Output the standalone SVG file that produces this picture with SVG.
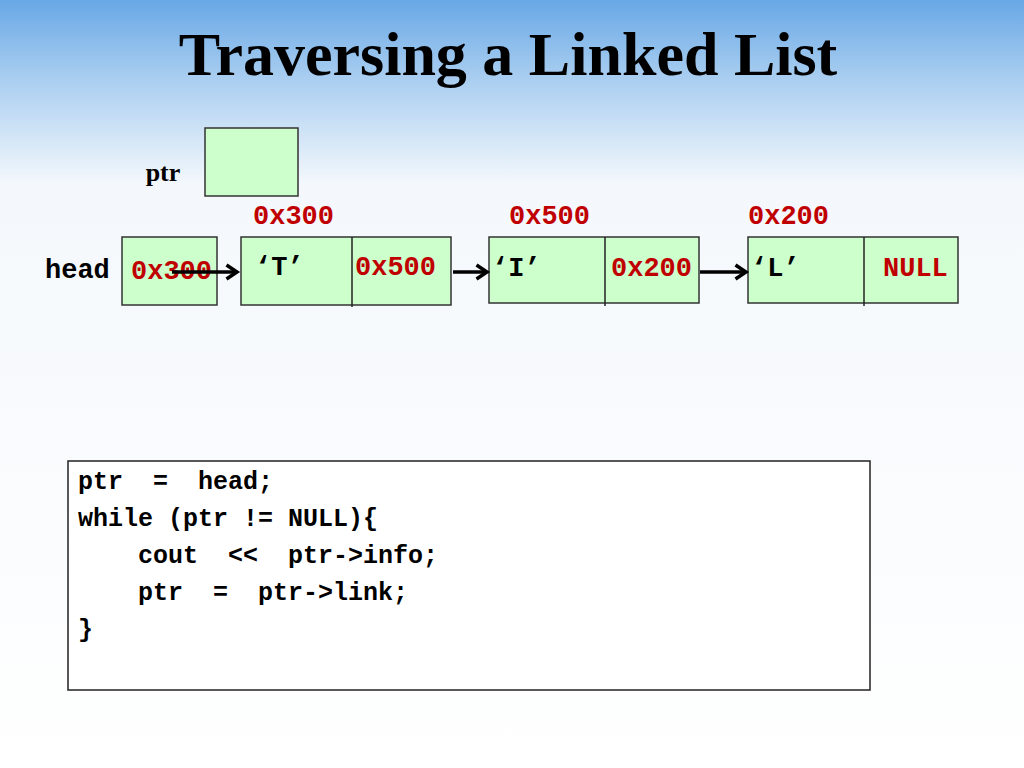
<svg xmlns="http://www.w3.org/2000/svg" width="1024" height="768" viewBox="0 0 1024 768">
<defs>
<linearGradient id="bg" x1="0" y1="0" x2="0" y2="1">
<stop offset="0" stop-color="#68a8e6"/>
<stop offset="0.1" stop-color="#a8cdf0"/>
<stop offset="0.24" stop-color="#f4f8fc"/>
<stop offset="1" stop-color="#ffffff"/>
</linearGradient>
<marker id="ah" viewBox="0 0 10 10" refX="8" refY="5" markerWidth="5" markerHeight="5" orient="auto" markerUnits="strokeWidth">
<path d="M2,1 L8,5 L2,9" fill="none" stroke="#000" stroke-width="2"/>
</marker>
<style>
.box{fill:#ccffcc;stroke:#333;stroke-width:1.5}
.div{stroke:#222;stroke-width:1.5}
.mono{font-family:"Liberation Mono",monospace;font-weight:bold;font-size:27px}
.red{fill:#c00000}
.blk{fill:#000}
.serif{font-family:"Liberation Serif",serif;font-weight:bold}
.code{font-family:"Liberation Mono",monospace;font-weight:bold;font-size:25px;fill:#000}
.conn{stroke:#000;stroke-width:3.5;fill:none}
</style>
</defs>
<rect width="1024" height="768" fill="url(#bg)"/>
<text x="508" y="75" text-anchor="middle" class="serif" font-size="62">Traversing a Linked List</text>
<g id="ptr">
<text x="163" y="181" text-anchor="middle" class="serif" font-size="26">ptr</text>
<rect class="box" x="205" y="128" width="93" height="68"/>
</g>
<g id="head">
<text x="45" y="278" class="mono blk">head</text>
<rect class="box" x="122" y="237" width="95" height="68"/>
<text x="131" y="279" class="mono red">0x300</text>
</g>
<g id="node1">
<text x="253" y="224" class="mono red">0x300</text>
<rect class="box" x="241" y="237" width="210" height="68"/>
<line class="div" x1="352" y1="237" x2="352" y2="307"/>
<text x="255" y="275" class="mono blk">‘T’</text>
<text x="355" y="275" class="mono red">0x500</text>
</g>
<g id="node2">
<text x="509" y="224" class="mono red">0x500</text>
<rect class="box" x="489" y="237" width="210" height="66"/>
<line class="div" x1="605" y1="237" x2="605" y2="306"/>
<text x="492" y="276" class="mono blk">‘I’</text>
<text x="611" y="276" class="mono red">0x200</text>
</g>
<g id="node3">
<text x="748" y="224" class="mono red">0x200</text>
<rect class="box" x="748" y="237" width="210" height="66"/>
<line class="div" x1="864" y1="237" x2="864" y2="306"/>
<text x="751" y="276" class="mono blk">‘L’</text>
<text x="883" y="276" class="mono red">NULL</text>
</g>
<g id="connectors">
<line class="conn" x1="172" y1="272" x2="237" y2="272" marker-end="url(#ah)"/>
<line class="conn" x1="453" y1="272" x2="487" y2="272" marker-end="url(#ah)"/>
<line class="conn" x1="700" y1="272" x2="746" y2="272" marker-end="url(#ah)"/>
</g>
<g id="code">
<rect x="68" y="461" width="802" height="229" fill="#fff" stroke="#222" stroke-width="1.5"/>
<text x="78" y="489" class="code" xml:space="preserve">ptr  =  head;</text>
<text x="78" y="526" class="code" xml:space="preserve">while (ptr != NULL){</text>
<text x="78" y="563" class="code" xml:space="preserve">    cout  &lt;&lt;  ptr-&gt;info;</text>
<text x="78" y="600" class="code" xml:space="preserve">    ptr  =  ptr-&gt;link;</text>
<text x="78" y="637" class="code">}</text>
</g>
</svg>
